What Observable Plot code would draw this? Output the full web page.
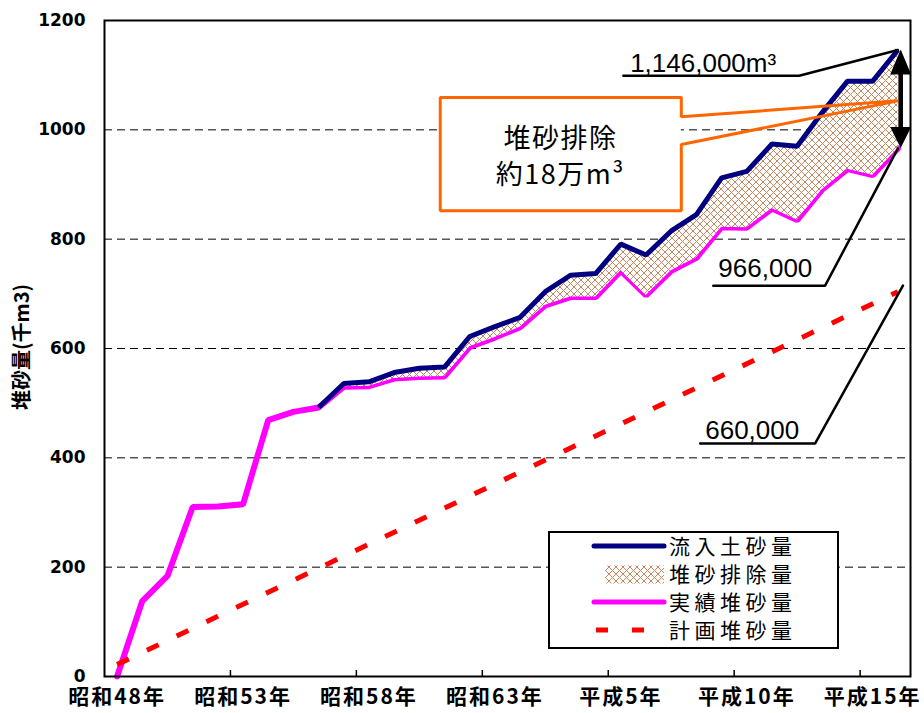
<!DOCTYPE html>
<html><head><meta charset="utf-8">
<script src="https://cdn.jsdelivr.net/npm/d3@7"></script>
<script src="https://cdn.jsdelivr.net/npm/@observablehq/plot@0.6"></script>
<style>
html,body{margin:0;padding:0;background:#fff;}
#chart{width:924px;height:713px;}
</style>
</head><body><div id="chart"></div>
<script>
// ---- data ----
const years = [1973,1974,1975,1976,1977,1978,1979,1980,1981,1982,1983,1984,1985,1986,1987,1988,
               1989,1990,1991,1992,1993,1994,1995,1996,1997,1998,1999,2000,2001,2002,2003,2004];
const tickLabels = ["昭和48年","昭和53年","昭和58年","昭和63年","平成5年","平成10年","平成15年"];
const tickIdx = [0,5,10,15,20,25,30];
const yTicks = [0,200,400,600,800,1000,1200];
// 流入土砂量 (千m3)
const inflow = [null,null,null,null,null,null,null,null,492,536,539,556,564,566,622,640,
                657,704,734,737,791,771,815,845,912,924,974,970,1032,1089,1089,1146];
// 実績堆砂量 (千m3)
const actual = [0,138,184,310,311,315,469,484,492,530,531,545,548,549,603,620,
                639,679,694,694,742,697,742,766,822,821,856,835,891,928,917,966];
// 計画堆砂量 (千m3)
const planned = [22,44,66,88,110,132,154,176,198,220,242,264,286,308,330,352,
                 374,396,418,440,462,484,506,528,550,572,594,616,638,660,682,704];
const legendLabels = ["流入土砂量","堆砂排除量","実績堆砂量","計画堆砂量"];
const annoTexts = ["1,146,000m³","966,000","660,000","堆砂排除","約18万m³"];

const rows = years.map((yr, i) => ({i, yr, inflow: inflow[i], actual: actual[i], planned: planned[i]}));
const removal = rows.filter(d => d.inflow != null);
const last = rows.length - 1;

// annotation anchors (data space: x = year index, y = 千m3)
const lead1 = [{x:20.10,y:1099},{x:27.08,y:1099},{x:last,y:inflow[last]}];
const lead2 = [{x:23.67,y:715},{x:28.11,y:715},{x:last,y:actual[last]}];
const lead3 = [{x:23.15,y:426},{x:27.71,y:426},{x:31.2,y:715}];
const callout = [{x:22.40,y:1059},{x:12.83,y:1059},{x:12.83,y:852},{x:22.40,y:852},{x:22.40,y:973},
                 {x:last,y:1053},{x:22.40,y:1024},{x:22.40,y:1059}];
const labels = [
  {x:20.37,y:1105,t:annoTexts[0]},
  {x:23.87,y:730,t:annoTexts[1]},
  {x:23.35,y:434,t:annoTexts[2]}
];
const boxText = [{x:17.6,y:983,t:annoTexts[3]},{x:17.6,y:916,t:annoTexts[4]}];

const CJK = "'Noto Sans CJK JP', sans-serif";

const plot = Plot.plot({
  width: 924, height: 713,
  marginLeft: 104, marginRight: 14, marginTop: 20, marginBottom: 37,
  style: {fontFamily: "'DejaVu Sans', sans-serif", background: "#fff", overflow: "visible", color: "#000"},
  x: {domain: [-0.5, 31.5]},
  y: {domain: [0, 1200]},
  marks: [
    Plot.gridY([200,400,600,800,1000], {stroke: "#000", strokeOpacity: 1, strokeWidth: 1, strokeDasharray: "8,5"}),
    Plot.axisY(yTicks, {tickSize: 0, tickPadding: 19, fontSize: 17, fontWeight: "bold", label: null, tickFormat: d => String(d)}),
    Plot.axisX(tickIdx, {tickSize: 0, tickPadding: 13, fontSize: 21, fontWeight: "bold", fontFamily: CJK,
      tickFormat: d => tickLabels[tickIdx.indexOf(d)], label: null, className: "xlab"}),
    Plot.ruleX(tickIdx.slice(1).map(t => t - 0.5), {y1: 0, y2: 11, stroke: "#000", strokeWidth: 1.5}),
    Plot.line(rows, {x: "i", y: "actual", stroke: "#ff00ff", strokeWidth: 6, strokeLinejoin: "miter"}),
    Plot.areaY(removal, {x: "i", y1: "actual", y2: "inflow", fill: "#c8865e", className: "hatch"}),
    Plot.line(removal, {x: "i", y: "inflow", stroke: "#000080", strokeWidth: 5, strokeLinejoin: "miter", strokeLinecap: "butt"}),
    Plot.line(rows, {x: "i", y: "planned", stroke: "#ff0000", strokeWidth: 5, strokeDasharray: "13,20", strokeLinecap: "butt"}),
    Plot.frame({stroke: "#000", strokeWidth: 2}),
    // annotations
    Plot.rect([0], {x1: 12.83, x2: 22.40, y1: 852, y2: 1059, fill: "#fff"}),
    Plot.line(callout, {x: "x", y: "y", stroke: "#ff6600", strokeWidth: 3, strokeLinejoin: "miter", curve: "linear"}),
    Plot.text(boxText, {x: "x", y: "y", text: "t", fontSize: 27, fontFamily: CJK, fill: "#000", className: "boxtext"}),
    Plot.line(lead1, {x: "x", y: "y", stroke: "#000", strokeWidth: 2.5, strokeLinejoin: "miter"}),
    Plot.line(lead2, {x: "x", y: "y", stroke: "#000", strokeWidth: 2.5, strokeLinejoin: "miter"}),
    Plot.line(lead3, {x: "x", y: "y", stroke: "#000", strokeWidth: 2.5, strokeLinejoin: "miter"}),
    Plot.text(labels, {x: "x", y: "y", text: "t", textAnchor: "start", lineAnchor: "bottom",
      fontSize: 26, fontFamily: "'Liberation Sans', Arial, sans-serif", fill: "#000"})
  ]
});

const X = plot.scale("x"), Y = plot.scale("y");
const sx = v => X.apply(v), sy = v => Y.apply(v);
const svg = d3.select(plot);

// hatch pattern
const defs = svg.insert("defs", ":first-child");
const pat = defs.append("pattern").attr("id", "hatch").attr("patternUnits", "userSpaceOnUse")
  .attr("width", 7).attr("height", 7);
pat.append("rect").attr("width", 7).attr("height", 7).attr("fill", "#fff");
pat.append("path").attr("d", "M0,0L7,7M7,0L0,7").attr("stroke", "#c8865e").attr("stroke-width", 1).attr("fill", "none");
svg.selectAll(".hatch path").attr("fill", "url(#hatch)");

// letter spacing for CJK labels
svg.selectAll(".xlab text").attr("letter-spacing", "2px");
svg.selectAll(".boxtext text").attr("letter-spacing", "1.5px");

// double arrow (removal amount)
const ax = sx(31.13), yTop = sy(inflow[last]) , yBot = sy(actual[last]);
const ga = svg.append("g").attr("fill", "#000");
ga.append("rect").attr("x", ax - 2.3).attr("y", yTop + 20).attr("width", 4.6).attr("height", (yBot - yTop) - 40);
ga.append("path").attr("d", `M${ax},${yTop}L${ax+10.5},${yTop+25}L${ax-10.5},${yTop+25}Z`);
ga.append("path").attr("d", `M${ax},${yBot}L${ax+10.5},${yBot-21}L${ax-10.5},${yBot-21}Z`);

// y-axis title
svg.append("text").attr("transform", "translate(22,347) rotate(-90)")
  .attr("text-anchor", "middle").attr("dy", "0.35em")
  .attr("font-family", CJK).attr("font-size", 20).attr("font-weight", "bold").attr("fill", "#000")
  .text("堆砂量(千m3)");

// legend
const lg = svg.append("g");
lg.append("rect").attr("x", 549).attr("y", 532).attr("width", 289).attr("height", 116)
  .attr("fill", "#fff").attr("stroke", "#000").attr("stroke-width", 2);
const rowY = [546, 574.5, 602, 630];
lg.append("line").attr("x1", 594).attr("x2", 664).attr("y1", rowY[0]).attr("y2", rowY[0])
  .attr("stroke", "#000080").attr("stroke-width", 5).attr("stroke-linecap", "round");
lg.append("rect").attr("x", 605).attr("y", rowY[1] - 9).attr("width", 59).attr("height", 18).attr("fill", "url(#hatch)");
lg.append("line").attr("x1", 594).attr("x2", 664).attr("y1", rowY[2]).attr("y2", rowY[2])
  .attr("stroke", "#ff00ff").attr("stroke-width", 5).attr("stroke-linecap", "round");
lg.append("line").attr("x1", 596).attr("x2", 645).attr("y1", rowY[3]).attr("y2", rowY[3])
  .attr("stroke", "#ff0000").attr("stroke-width", 5).attr("stroke-dasharray", "12,24");
legendLabels.forEach((t, k) => {
  lg.append("text").attr("x", 669).attr("y", rowY[k]).attr("dy", "0.36em").attr("text-anchor", "start")
    .attr("font-family", CJK).attr("font-size", 21).attr("letter-spacing", "4.5px").attr("fill", "#000").text(t);
});

document.getElementById("chart").appendChild(plot);
</script>
</body></html>
